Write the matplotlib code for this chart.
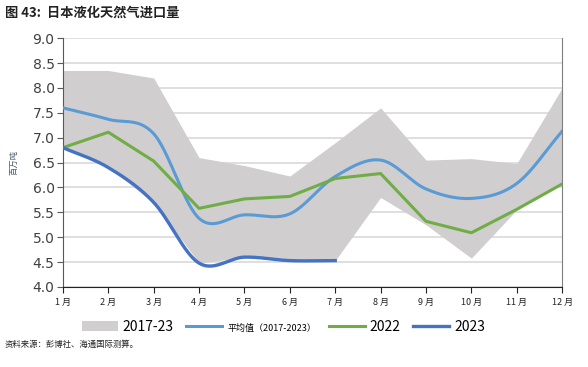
import numpy as np
import matplotlib
matplotlib.use("Agg")
import matplotlib.pyplot as plt
from matplotlib.patches import Patch
from matplotlib.lines import Line2D

plt.rcParams['font.family'] = ['Noto Sans CJK SC', 'DejaVu Sans']

months = ["1 月", "2 月", "3 月", "4 月", "5 月", "6 月", "7 月", "8 月", "9 月", "10 月", "11 月", "12 月"]
band_high = [8.35, 8.35, 8.2, 6.6, 6.44, 6.23, 6.9, 7.6, 6.55, 6.58, 6.48, 8.0]
band_low = [6.8, 6.4, 5.7, 4.48, 4.6, 4.53, 4.53, 5.8, 5.25, 4.58, 5.55, 6.07]
avg = [7.6, 7.37, 7.08, 5.38, 5.45, 5.47, 6.22, 6.55, 5.97, 5.78, 6.08, 7.13]
y2022 = [6.8, 7.11, 6.53, 5.58, 5.77, 5.82, 6.18, 6.28, 5.32, 5.09, 5.56, 6.07]
y2023 = [6.8, 6.4, 5.7, 4.48, 4.6, 4.53, 4.53]


def smooth(xs, ys, n=30):
    xs = np.asarray(xs, float); ys = np.asarray(ys, float)
    px = np.concatenate([[2*xs[0]-xs[1]], xs, [2*xs[-1]-xs[-2]]])
    py = np.concatenate([[2*ys[0]-ys[1]], ys, [2*ys[-1]-ys[-2]]])
    ox, oy = [], []
    for i in range(1, len(px)-2):
        p0, p1, p2, p3 = (px[i-1], py[i-1]), (px[i], py[i]), (px[i+1], py[i+1]), (px[i+2], py[i+2])
        c1 = (p1[0] + (p2[0]-p0[0])/6, p1[1] + (p2[1]-p0[1])/6)
        c2 = (p2[0] - (p3[0]-p1[0])/6, p2[1] - (p3[1]-p1[1])/6)
        t = np.linspace(0, 1, n, endpoint=(i == len(px)-3))
        bx = (1-t)**3*p1[0] + 3*(1-t)**2*t*c1[0] + 3*(1-t)*t**2*c2[0] + t**3*p2[0]
        by = (1-t)**3*p1[1] + 3*(1-t)**2*t*c1[1] + 3*(1-t)*t**2*c2[1] + t**3*p2[1]
        ox.append(bx); oy.append(by)
    return np.concatenate(ox), np.concatenate(oy)


fig = plt.figure(figsize=(5.88, 3.67), dpi=100)
ax = fig.add_axes([0.107, 0.218, 0.849, 0.678])

x = np.arange(len(months))
ax.fill_between(x, band_low, band_high, color='#D0CECE', linewidth=0, zorder=1)
sx, sy = smooth(x, avg)
ax.plot(sx, sy, color='#5B9BD5', lw=2.2, zorder=3)
ax.plot(x, y2022, color='#70AD47', lw=2.2, zorder=4)
sx3, sy3 = smooth(x[:len(y2023)], y2023)
ax.plot(sx3, sy3, color='#4472C4', lw=2.4, zorder=5)

ax.set_xlim(0, 11)
ax.set_ylim(4.0, 9.0)
ax.set_yticks(np.arange(4.0, 9.01, 0.5))
ax.set_yticklabels([f"{v:.1f}" for v in np.arange(4.0, 9.01, 0.5)], fontsize=10, color='#404040',
                   family='DejaVu Sans')
ax.set_xticks(x)
ax.set_xticklabels(months, fontsize=6.5, color='#222222')
ax.yaxis.grid(True, color='#D9D9D9', lw=1.2)
ax.set_axisbelow(True)
ax.spines['top'].set_visible(False)
ax.spines['right'].set_color('#7F7F7F')
ax.spines['left'].set_color('#595959')
ax.spines['bottom'].set_color('#222222')
ax.tick_params(axis='y', length=4, color='#595959', pad=2)
ax.tick_params(axis='x', length=4, color='#222222', pad=4)
ax.set_ylabel("百万吨", fontsize=6, color='#44546A', labelpad=10)

fig.text(0.008, 0.955, "图 43:  日本液化天然气进口量", fontsize=9.5, fontweight='bold', color='#222222')
fig.text(0.008, 0.055, "资料来源：彭博社、海通国际测算。", fontsize=6, color='#222222')

handles = [Patch(facecolor='#D0CECE', edgecolor='none'),
           Line2D([], [], color='#5B9BD5', lw=2.2),
           Line2D([], [], color='#70AD47', lw=2.2),
           Line2D([], [], color='#4472C4', lw=2.4)]
labels = ["2017-23", "平均值（2017-2023）", "2022", "2023"]
leg = fig.legend(handles, labels, loc='center', bbox_to_anchor=(0.482, 0.109), ncol=4, frameon=False,
                 fontsize=10, handlelength=2.6, columnspacing=0.9, handletextpad=0.35, borderpad=0)
leg.get_texts()[1].set_fontsize(6.5)

fig.savefig("out.png", dpi=100)
